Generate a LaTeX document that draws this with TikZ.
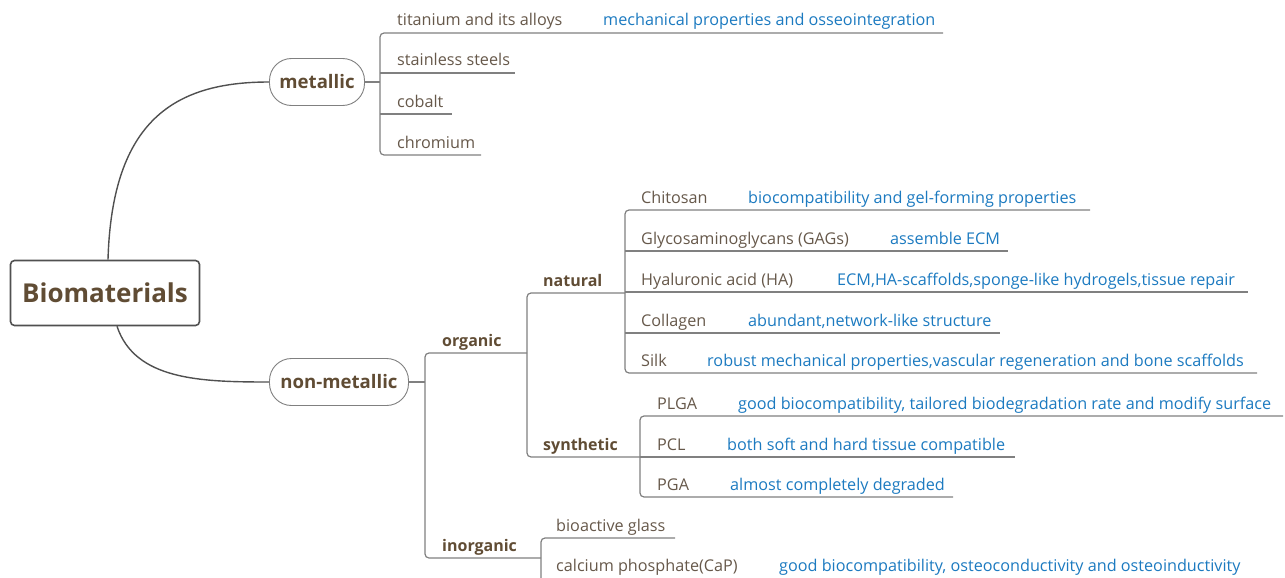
\documentclass[tikz,border=0pt]{standalone}
\usepackage{fontspec}
\setmainfont{Open Sans}
\definecolor{itemc}{RGB}{102,88,74}
\definecolor{catc}{RGB}{96,76,52}
\definecolor{bluec}{RGB}{28,122,192}
\definecolor{linec}{RGB}{128,128,128}
\definecolor{curvec}{RGB}{80,80,80}
\begin{document}
\begin{tikzpicture}[x=1pt,y=-1pt,
  item/.style={anchor=base west, inner sep=0, font=\fontsize{16.2}{18}\selectfont, text=itemc},
  note/.style={anchor=base west, inner sep=0, font=\fontsize{16.2}{18}\selectfont, text=bluec},
  cat/.style={anchor=base west, inner sep=0, font=\fontsize{16}{18}\selectfont\bfseries, text=catc},
  pill/.style={draw=linec, line width=0.9, rounded corners=22, fill=white, font=\fontsize{18.6}{20}\selectfont\bfseries, text=catc, minimum height=47, inner xsep=6},
  root/.style={draw=curvec, line width=1.6, rounded corners=4, font=\fontsize{26}{30}\selectfont\bfseries, text=catc, minimum width=189, minimum height=65},
  ln/.style={draw=linec, line width=1.2},
  br/.style={draw=linec, line width=1.2, rounded corners=4},
  cv/.style={draw=curvec, line width=1.4}]
\useasboundingbox (0,0) rectangle (1285,578);
% root and first level
\node[root] (bio) at (105,293) {Biomaterials};
\node[pill, minimum width=95] (met) at (317,82) {metallic};
\node[pill, minimum width=139] (non) at (339,382) {non-metallic};
\draw[cv] ([xshift=3]bio.north) .. controls (112,120) and (175,82) .. (met.west);
\draw[cv] ([xshift=12]bio.south) .. controls (135,380) and (200,382) .. (non.west);
% metallic branch
\node[item] (ti) at (397,26) {titanium and its alloys};
\node[note] (tin) at (603,26) {mechanical properties and osseointegration};
\node[item] (ss) at (397,66) {stainless steels};
\node[item] (co) at (397,107) {cobalt};
\node[item] (cr) at (397,148) {chromium};
\coordinate (mb) at (380,82);
\coordinate (tie) at (943,33);
\coordinate (sse) at (515,73);
\coordinate (coe) at (452,114);
\coordinate (cre) at (481,155);
\draw[ln] (met.east) -- (mb);
\draw[br] (tie) -- (mb |- tie) -- (mb |- cre) -- (cre);
\draw[ln] (mb |- sse) -- (sse);
\draw[ln] (mb |- coe) -- (coe);
% non-metallic branch
\coordinate (nb) at (425,382);
\draw[ln] (non.east) -- (nb);
\node[cat] (org) at (442,346) {organic};
\node[cat] (inorg) at (442,551) {inorganic};
\coordinate (orge) at (527,353);
\coordinate (inoe) at (541,558);
\draw[br] (orge) -- (nb |- orge) -- (nb |- inoe) -- (inoe);
% organic
\node[cat] (nat) at (543,286) {natural};
\node[cat] (syn) at (543,450) {synthetic};
\coordinate (nate) at (625,293);
\coordinate (syne) at (640,457);
\draw[br] (nate) -- (orge |- nate) -- (orge |- syne) -- (syne);
% natural items
\node[item] (chi) at (641,203) {Chitosan};
\node[note] (chin) at (748,203) {biocompatibility and gel-forming properties};
\node[item] (gag) at (641,244) {Glycosaminoglycans (GAGs)};
\node[note] (gagn) at (890,244) {assemble ECM};
\node[item] (ha) at (641,285) {Hyaluronic acid (HA)};
\node[note] (han) at (837,285) {ECM,HA-scaffolds,sponge-like hydrogels,tissue repair};
\node[item] (col) at (641,326) {Collagen};
\node[note] (coln) at (748,326) {abundant,network-like structure};
\node[item] (silk) at (641,366) {Silk};
\node[note] (silkn) at (707,366) {robust mechanical properties,vascular regeneration and bone scaffolds};
\coordinate (chie) at (1090,210);
\coordinate (gage) at (1008,251);
\coordinate (hae) at (1248,292);
\coordinate (cole) at (1000,333);
\coordinate (silke) at (1257,373);
\draw[br] (chie) -- (nate |- chie) -- (nate |- silke) -- (silke);
\draw[ln] (nate |- gage) -- (gage);
\draw[ln] (nate |- hae) -- (hae);
\draw[ln] (nate |- cole) -- (cole);
% synthetic items
\node[item] (plga) at (657,409) {PLGA};
\node[note] (plgan) at (738,409) {good biocompatibility, tailored biodegradation rate and modify surface};
\node[item] (pcl) at (657,450) {PCL};
\node[note] (pcln) at (727,450) {both soft and hard tissue compatible};
\node[item] (pga) at (657,490) {PGA};
\node[note] (pgan) at (730,490) {almost completely degraded};
\coordinate (plgae) at (1283,416);
\coordinate (pcle) at (1015,457);
\coordinate (pgae) at (953,497);
\draw[br] (plgae) -- (syne |- plgae) -- (syne |- pgae) -- (pgae);
\draw[ln] (syne) -- (pcle);
% inorganic items
\node[item] (bg) at (556,531) {bioactive glass};
\node[item] (cap) at (556,571) {calcium phosphate(CaP)};
\node[note] (capn) at (779,571) {good biocompatibility, osteoconductivity and osteoinductivity};
\coordinate (bge) at (675,538);
\coordinate (capb) at (541,578);
\draw[br] (bge) -- (inoe |- bge) -- (capb);
\end{tikzpicture}
\end{document}
